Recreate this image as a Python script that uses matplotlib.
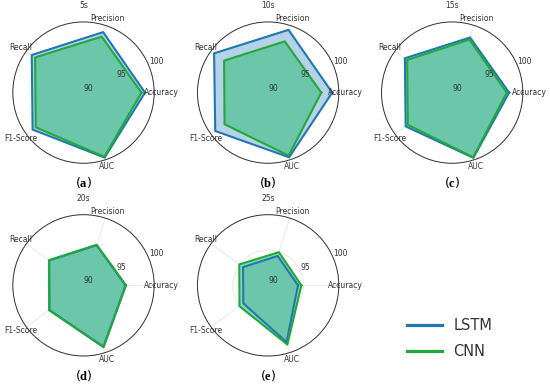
import numpy as np
import matplotlib
matplotlib.use("Agg")
import matplotlib.pyplot as plt
from matplotlib.lines import Line2D

plt.rcParams['mathtext.fontset'] = 'custom'
plt.rcParams['mathtext.rm'] = 'Liberation Serif'
plt.rcParams['mathtext.bf'] = 'Liberation Serif:bold'

metrics = ["Accuracy", "Precision", "Recall", "F1-Score", "AUC"]
windows = ["5s", "10s", "15s", "20s", "25s"]
panel_tags = ["a", "b", "c", "d", "e"]

lstm_5s = [98.7, 99.0, 99.05, 98.9, 99.67]
cnn_5s = [98.2, 98.33, 98.47, 98.35, 99.55]
lstm_10s = [99.07, 99.34, 99.45, 99.25, 99.62]
cnn_10s = [97.52, 97.62, 97.7, 97.62, 99.38]
lstm_15s = [98.06, 98.2, 98.27, 98.13, 99.7]
cnn_15s = [97.73, 97.89, 97.87, 97.76, 99.62]
lstm_20s = [95.96, 95.98, 95.99, 95.95, 99.15]
cnn_20s = [96.01, 96.03, 96.04, 96.0, 99.2]
lstm_25s = [94.23, 94.37, 94.39, 94.34, 98.45]
cnn_25s = [94.7, 94.93, 95.04, 95.01, 98.82]

lstm_all = [lstm_5s, lstm_10s, lstm_15s, lstm_20s, lstm_25s]
cnn_all = [cnn_5s, cnn_10s, cnn_15s, cnn_20s, cnn_25s]

r_ticks = [90, 95, 100]
r_min, r_max = 90, 100

LSTM_LINE = "#1f77b4"
CNN_LINE = "#22a83a"
LSTM_FILL = "#1f77b4"
CNN_FILL = "#3cbe82"
TXT = "#333333"

fig = plt.figure(figsize=(5.5, 3.87), dpi=100)

W, H = 0.257, 0.3654
lefts = [0.0233, 0.359, 0.6936]
bottoms = [0.578, 0.080]
positions = [(lefts[0], bottoms[0]), (lefts[1], bottoms[0]), (lefts[2], bottoms[0]),
             (lefts[0], bottoms[1]), (lefts[1], bottoms[1])]

angles = np.linspace(0, 2 * np.pi, len(metrics), endpoint=False)
angles_closed = np.concatenate([angles, angles[:1]])
label_r = r_min + 1.096 * (r_max - r_min)

for i, (pos, win, tag) in enumerate(zip(positions, windows, panel_tags)):
    ax = fig.add_axes([pos[0], pos[1], W, H], projection="polar")
    ax.set_axisbelow(True)
    l = np.array(lstm_all[i] + lstm_all[i][:1])
    c = np.array(cnn_all[i] + cnn_all[i][:1])
    ax.fill(angles_closed, l, color="white", lw=0, zorder=1)
    ax.fill(angles_closed, c, color="white", lw=0, zorder=1)
    ax.fill(angles_closed, l, color=LSTM_FILL, alpha=0.33, lw=0, zorder=2)
    ax.fill(angles_closed, c, color=CNN_FILL, alpha=0.6, lw=0, zorder=3)
    ax.plot(angles_closed, l, color=LSTM_LINE, lw=1.5, zorder=4)
    ax.plot(angles_closed, c, color=CNN_LINE, lw=1.5, zorder=5)
    ax.set_ylim(r_min, r_max)
    ax.set_yticks(r_ticks)
    ax.set_yticklabels([])
    ax.set_xticks(angles)
    ax.set_xticklabels([])
    for t in r_ticks:
        ax.text(np.deg2rad(22.5), t, str(t), ha="left", va="bottom",
                fontsize=5.5, color=TXT, zorder=10, clip_on=False)
    for ang, name in zip(angles, metrics):
        ax.text(ang, label_r, name, ha="center", va="center", fontsize=5.5,
                color=TXT, zorder=10, clip_on=False)
    ax.grid(color="#ebebeb", lw=0.8)
    ax.spines["polar"].set_color(TXT)
    ax.spines["polar"].set_linewidth(0.7)
    ax.text(0.5, 1.113, win, transform=ax.transAxes, ha="center", va="center",
            fontsize=5.5, color=TXT)
    ax.text(0.5, -0.138, r"($\mathbf{%s}$)" % tag, transform=ax.transAxes,
            ha="center", va="center", fontsize=9)

handles = [Line2D([0], [0], color=LSTM_LINE, lw=2.3),
           Line2D([0], [0], color=CNN_LINE, lw=2.3)]
fig.legend(handles, ["LSTM", "CNN"], loc="center", bbox_to_anchor=(0.817, 0.125),
           frameon=False, fontsize=10.5, handlelength=2.4, handletextpad=0.8,
           labelspacing=0.75, labelcolor=TXT)

fig.savefig("out.png", dpi=100)
